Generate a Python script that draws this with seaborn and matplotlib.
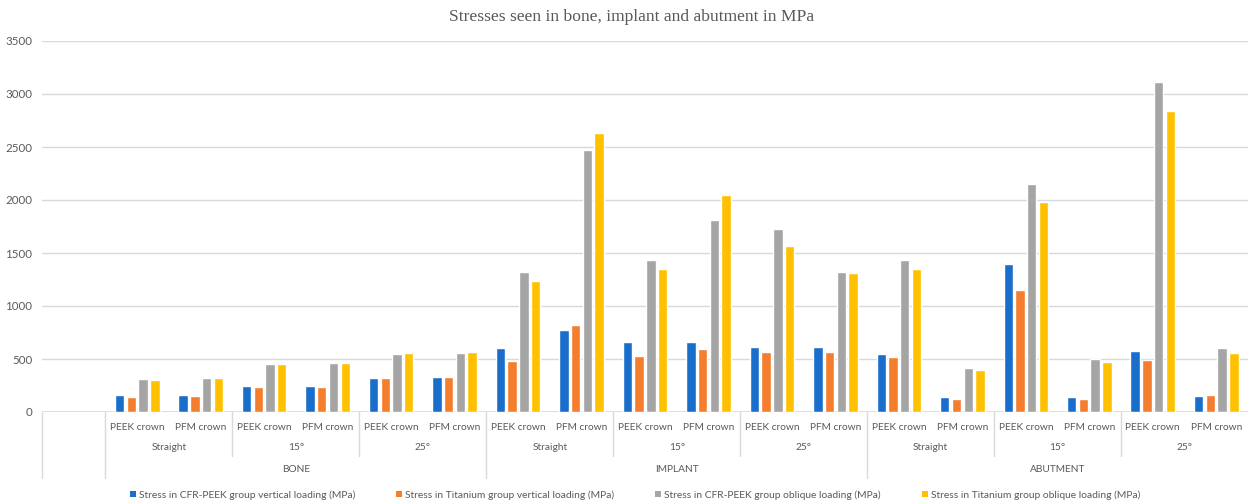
import matplotlib
matplotlib.use("Agg")
import matplotlib.pyplot as plt
import matplotlib.transforms as mtransforms
from matplotlib.patches import Patch
from matplotlib.lines import Line2D
import seaborn as sns
import pandas as pd

# ---------------- data ----------------
groups = ["BONE", "IMPLANT", "ABUTMENT"]
angles = ["Straight", "15°", "25°"]
crowns = ["PEEK crown", "PFM crown"]
series_names = [
    "Stress in CFR-PEEK group vertical loading (MPa)",
    "Stress in Titanium group vertical loading (MPa)",
    "Stress in CFR-PEEK group oblique loading (MPa)",
    "Stress in Titanium group oblique loading (MPa)",
]
cfr_vertical = [158, 164, 243, 249, 325, 331, 600, 773, 662, 662, 615, 615, 549, 142, 1400, 142, 571, 151]
ti_vertical = [142, 151, 237, 237, 319, 331, 483, 817, 524, 590, 568, 562, 515, 123, 1154, 123, 486, 158]
cfr_oblique = [309, 322, 451, 458, 549, 558, 1325, 2469, 1435, 1814, 1722, 1325, 1435, 413, 2151, 499, 3116, 600]
ti_oblique = [300, 322, 451, 458, 558, 568, 1237, 2634, 1347, 2044, 1565, 1315, 1347, 397, 1984, 467, 2842, 558]
colors = ["#1A6ECB", "#F47D2E", "#A5A5A5", "#FFC000"]
title = "Stresses seen in bone, implant and abutment in MPa"

# ---------------- build table ----------------
cat_keys = []
for g in groups:
    for a in angles:
        for c in crowns:
            cat_keys.append(f"{g}|{a}|{c}")
rows = []
for name, vals in zip(series_names, [cfr_vertical, ti_vertical, cfr_oblique, ti_oblique]):
    for k, v in zip(cat_keys, vals):
        rows.append({"cat": k, "series": name, "value": v})
df = pd.DataFrame(rows)

# ---------------- figure ----------------
sns.set_theme(style="white")
plt.rcParams["font.family"] = ["Lato", "DejaVu Sans"]
W, H = 1248, 503
fig = plt.figure(figsize=(W / 100, H / 100), dpi=100)
ax = fig.add_axes([42 / W, 1 - 412 / H, (W - 42) / W, (412 - 41) / H])

sns.barplot(data=df, x="cat", y="value", hue="series", order=cat_keys,
            hue_order=series_names, palette=colors, saturation=1,
            width=0.74, gap=0.2, errorbar=None, ax=ax, legend=False,
            zorder=3)

ax.set_xlim(-1.5, len(cat_keys) - 0.5)
ax.set_ylim(0, 3500)
ax.set_yticks(range(0, 3501, 500))
ax.set_yticklabels([str(v) for v in range(0, 3501, 500)], color="#595959", fontsize=8.3)
ax.tick_params(axis="y", length=0, pad=7)
ax.set_xticks([])
ax.set_xlabel("")
ax.set_ylabel("")
for s in ax.spines.values():
    s.set_visible(False)
ax.grid(axis="y", color="#D9D9D9", linewidth=1.0, zorder=0)
ax.set_axisbelow(True)
ax.axhline(0, color="#D9D9D9", linewidth=1.2, zorder=2)

# ---------------- multi-level category axis ----------------
trans = mtransforms.blended_transform_factory(ax.transData, fig.transFigure)
def fy(p):
    return 1 - p / H

lab_col = "#595959"
fs = 7.3
for i, k in enumerate(cat_keys):
    g, a, c = k.split("|")
    ax.text(i, fy(427), c, transform=trans, ha="center", va="center",
            fontsize=fs, color=lab_col, clip_on=False)
for gi, g in enumerate(groups):
    for ai, a in enumerate(angles):
        x = gi * 6 + ai * 2 + 0.5
        ax.text(x, fy(448), a, transform=trans, ha="center", va="center",
                fontsize=fs, color=lab_col, clip_on=False)
    ax.text(gi * 6 + 2.5, fy(470), g, transform=trans, ha="center", va="center",
            fontsize=fs, color=lab_col, clip_on=False)

line_col = "#D9D9D9"
for x in [-1.5, -0.5, 5.5, 11.5]:
    ax.add_line(Line2D([x, x], [fy(412), fy(478)], transform=trans,
                       color=line_col, linewidth=1.0, clip_on=False))
for x in [1.5, 3.5, 7.5, 9.5, 13.5, 15.5]:
    ax.add_line(Line2D([x, x], [fy(412), fy(456)], transform=trans,
                       color=line_col, linewidth=1.0, clip_on=False))

# ---------------- title & legend ----------------
fig.text(632 / W, fy(17), title, ha="center", va="center", fontsize=12.6,
         color="#595959", family=["Liberation Serif", "DejaVu Serif"])

handles = [Patch(facecolor=c, edgecolor="none") for c in colors]
fig.legend(handles, series_names, loc="center", bbox_to_anchor=(635 / W, fy(495)),
           ncol=4, frameon=False, fontsize=7.4, labelcolor="#595959",
           handlelength=0.6, handleheight=0.6, handletextpad=0.3,
           columnspacing=3.95, borderpad=0, borderaxespad=0)

fig.savefig("out.png", dpi=100)
